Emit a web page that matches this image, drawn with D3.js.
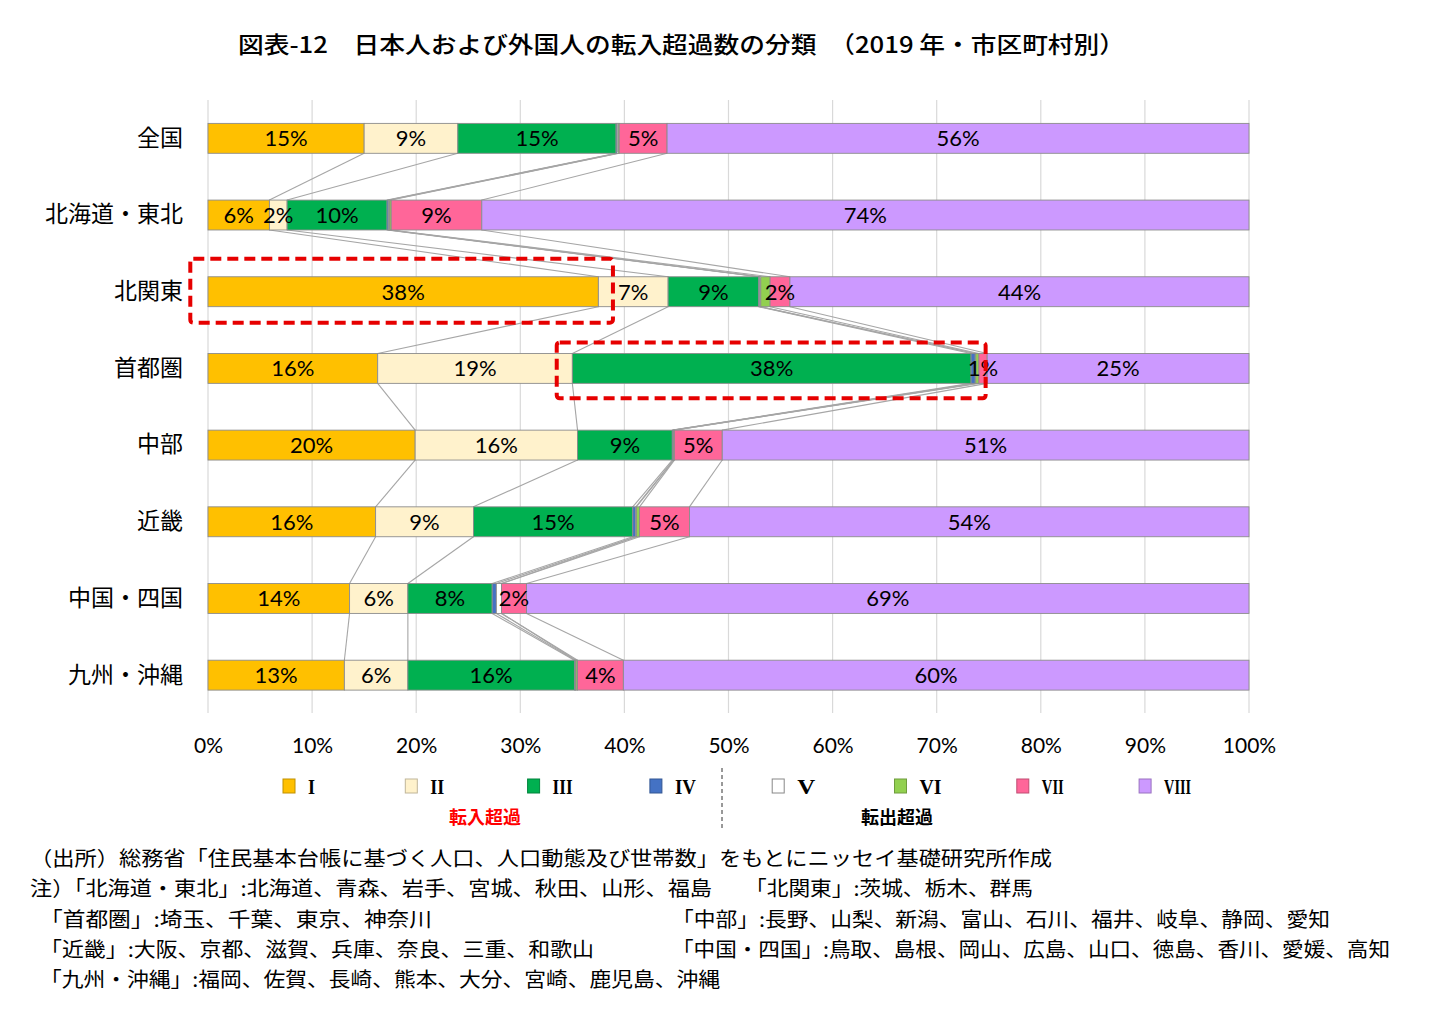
<!DOCTYPE html>
<html><head><meta charset="utf-8">
<script src="https://cdn.jsdelivr.net/npm/d3@7"></script>
<style>body{margin:0;background:#fff}</style>
</head><body>
<svg id="c" width="1432" height="1018"></svg>
<script>
const categories = ["全国","北海道・東北","北関東","首都圏","中部","近畿","中国・四国","九州・沖縄"];
const seriesNames = ["I","II","III","IV","V","VI","VII","VIII"];
const seriesColors = ["#FFC000","#FFF2CC","#00B050","#4472C4","#FFFFFF","#92D050","#FF6699","#CC99FF"];
const s1 = [15.0, 5.9, 37.5, 16.3, 19.9, 16.1, 13.6, 13.1];
const s2 = [9.0, 1.7, 6.7, 18.7, 15.6, 9.4, 5.6, 6.1];
const s3 = [15.2, 9.6, 8.7, 38.3, 9.1, 15.3, 8.1, 16.0];
const s4 = [0.1, 0.15, 0.1, 0.4, 0.1, 0.3, 0.4, 0.1];
const s5 = [0.1, 0.1, 0.1, 0.05, 0.05, 0.05, 0.5, 0.05];
const s6 = [0.1, 0.15, 0.9, 0.3, 0.05, 0.3, 0.0, 0.15];
const s7 = [4.6, 8.7, 1.9, 0.8, 4.6, 4.8, 2.4, 4.4];
const s8 = [55.9, 73.7, 44.1, 25.15, 50.6, 53.75, 69.4, 60.1];
const labeledSeries = [0,1,2,6,7];
const xTicks = [0,10,20,30,40,50,60,70,80,90,100];
const title = "図表-12　日本人および外国人の転入超過数の分類　（2019 年・市区町村別）";
const legendGroups = [{text:"転入超過", color:"#FF0000"}, {text:"転出超過", color:"#000000"}];
const highlights = [{cat:"北関東", from:-1.7, to:38.9}, {cat:"首都圏", from:33.5, to:74.7}];
const notes = [
  ["（出所）総務省「住民基本台帳に基づく人口、人口動態及び世帯数」をもとにニッセイ基礎研究所作成", ""],
  ["注）「北海道・東北」:北海道、青森、岩手、宮城、秋田、山形、福島", "「北関東」:茨城、栃木、群馬"],
  ["「首都圏」:埼玉、千葉、東京、神奈川", "「中部」:長野、山梨、新潟、富山、石川、福井、岐阜、静岡、愛知"],
  ["「近畿」:大阪、京都、滋賀、兵庫、奈良、三重、和歌山", "「中国・四国」:鳥取、島根、岡山、広島、山口、徳島、香川、愛媛、高知"],
  ["「九州・沖縄」:福岡、佐賀、長崎、熊本、大分、宮崎、鹿児島、沖縄", ""]
];

const JP = "'Noto Sans CJK JP','Noto Sans',sans-serif";
const NUM = "Lato,'Open Sans',sans-serif";
const svg = d3.select("#c");
svg.append("rect").attr("width",1432).attr("height",1018).attr("fill","#fff");

const x = d3.scaleLinear().domain([0,100]).range([208,1249]);
const y = d3.scaleBand().domain(categories).range([100,713.5]).paddingInner(0.61).paddingOuter(0.305);
const bw = y.bandwidth();

const allSeries = [s1,s2,s3,s4,s5,s6,s7,s8];
const rows = categories.map((c,i)=>{const o={cat:c}; seriesNames.forEach((s,k)=>o[s]=allSeries[k][i]); return o;});
const stack = d3.stack().keys(seriesNames)(rows);

// title
svg.append("text").attr("x",238).attr("y",53).attr("font-family",JP).attr("font-size",23)
  .attr("font-weight",500).attr("textLength",887).attr("lengthAdjust","spacingAndGlyphs").text(title);

// gridlines
svg.append("g").selectAll("line").data(xTicks).join("line")
  .attr("x1",d=>x(d)).attr("x2",d=>x(d)).attr("y1",100).attr("y2",713)
  .attr("stroke","#D9D9D9").attr("stroke-width",1.2);

// x axis labels
const xa = svg.append("g").attr("transform","translate(0,738)")
  .call(d3.axisBottom(x).tickValues(xTicks).tickFormat(d=>d+"%").tickSize(0));
xa.select(".domain").remove();
xa.selectAll("text").attr("font-family",NUM).attr("font-size",21).attr("fill","#000").attr("dy","0.71em").attr("y",0);

// category labels
const ya = svg.append("g").attr("transform","translate(183,0)")
  .call(d3.axisLeft(y).tickSize(0).tickPadding(0));
ya.select(".domain").remove();
ya.selectAll("text").attr("font-family",JP).attr("font-size",23).attr("fill","#000");

// series lines
const sl = svg.append("g");
stack.forEach((layer,k)=>{
  if(k===stack.length-1) return;
  for(let i=0;i<categories.length-1;i++){
    sl.append("line")
      .attr("x1",x(layer[i][1])).attr("y1",y(categories[i])+bw)
      .attr("x2",x(layer[i+1][1])).attr("y2",y(categories[i+1]))
      .attr("stroke","#A6A6A6").attr("stroke-width",1.1);
  }
});

// bars
const bars = svg.append("g");
stack.forEach((layer,k)=>{
  bars.append("g").selectAll("rect").data(layer).join("rect")
    .attr("x",d=>x(d[0])).attr("width",d=>Math.max(0,x(d[1])-x(d[0])))
    .attr("y",d=>y(d.data.cat)).attr("height",bw)
    .attr("fill",seriesColors[k]).attr("stroke","#8C8C8C").attr("stroke-width",0.9);
});

// labels
const lab = svg.append("g");
labeledSeries.forEach(k=>{
  lab.append("g").selectAll("text").data(stack[k]).join("text")
    .attr("x",d=>x((d[0]+d[1])/2)).attr("y",d=>y(d.data.cat)+bw/2)
    .attr("dy","0.36em").attr("text-anchor","middle")
    .attr("font-family",NUM).attr("font-size",22).attr("fill","#000")
    .text(d=>Math.round(d[1]-d[0])+"%");
});

// highlight boxes
svg.append("g").selectAll("rect").data(highlights).join("rect")
  .attr("x",d=>x(d.from)).attr("width",d=>x(d.to)-x(d.from))
  .attr("y",(d,i)=>y(d.cat)-(i===0?18:11)).attr("height",(d,i)=>bw+(i===0?34:26))
  .attr("rx",3).attr("fill","none").attr("stroke","#E60000").attr("stroke-width",4)
  .attr("stroke-dasharray","11,6");

// legend
const lg = svg.append("g");
seriesNames.forEach((s,k)=>{
  const lx = 283 + k*122.3;
  lg.append("rect").attr("x",lx).attr("y",779).attr("width",12).attr("height",14)
    .attr("fill",seriesColors[k]).attr("stroke",k===4?"#888":d3.color(seriesColors[k]).darker(0.8)).attr("stroke-width",1);
  const tl = [7,14,20,21,18,22,22,27][k];
  lg.append("text").attr("x",lx+25).attr("y",794).attr("font-family","'Liberation Serif',serif")
    .attr("font-weight","bold").attr("font-size",22).attr("textLength",tl).attr("lengthAdjust","spacingAndGlyphs").text(s);
});
lg.append("line").attr("x1",722).attr("x2",722).attr("y1",768).attr("y2",830)
  .attr("stroke","#333").attr("stroke-width",1).attr("stroke-dasharray","4,3");
lg.selectAll("text.grp").data(legendGroups).join("text").attr("class","grp")
  .attr("x",(d,i)=>i===0?485:897).attr("y",824).attr("text-anchor","middle")
  .attr("font-family",JP).attr("font-size",18).attr("font-weight","bold").attr("fill",d=>d.color).text(d=>d.text);

// notes
const nt = svg.append("g").attr("font-family",JP).attr("font-size",20).attr("fill","#000");
const noteLayout = [[30,1052,0,0],[30,712,745,1033],[40,432,672,1330],[40,594,672,1390],[40,720,0,0]];
notes.forEach((n,i)=>{
  const yy = 866 + i*30.3;
  const L = noteLayout[i];
  nt.append("text").attr("x",L[0]).attr("y",yy).attr("textLength",L[1]-L[0]).attr("lengthAdjust","spacingAndGlyphs").text(n[0]);
  if(n[1]) nt.append("text").attr("x",L[2]).attr("y",yy).attr("textLength",L[3]-L[2]).attr("lengthAdjust","spacingAndGlyphs").text(n[1]);
});
</script>
</body></html>
